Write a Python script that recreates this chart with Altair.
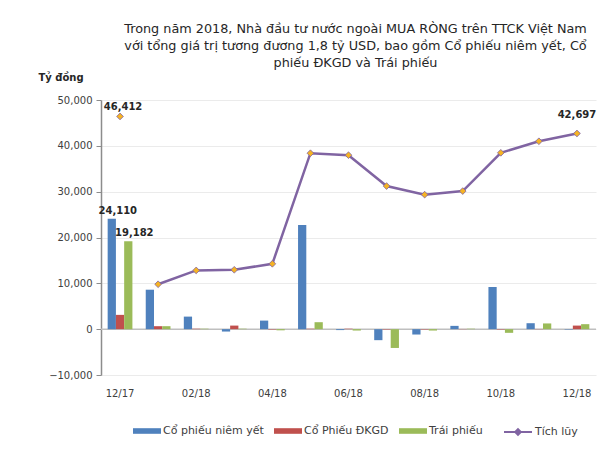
import altair as alt
import pandas as pd

months = ["12/17", "01/18", "02/18", "03/18", "04/18", "05/18", "06/18",
          "07/18", "08/18", "09/18", "10/18", "11/18", "12/18"]
listed = [24110, 8610, 2740, -520, 1870, 22740, -200, -2400, -1170, 720, 9200, 1300, -100]
upcom = [3120, 650, 100, 780, -100, 100, 100, -100, -100, 50, -100, 50, 780]
bonds = [19182, 650, 100, 100, -250, 1520, -300, -4100, -300, 100, -800, 1250, 1090]
cumulative = [46412, 9800, 12820, 12960, 14260, 38390, 37960, 31220, 29350, 30130, 38480, 41000, 42697]

series_names = ["Cổ phiếu niêm yết", "Cổ Phiếu ĐKGD", "Trái phiếu"]
line_name = "Tích lũy"
bar_colors = ["#4f81bd", "#c0504d", "#9bbb59"]
line_color = "#8064a2"
marker_color = "#f5b324"
y_ticks = [-10000, 0, 10000, 20000, 30000, 40000, 50000]

title_lines = [
    "Trong năm 2018, Nhà đầu tư nước ngoài MUA RÒNG trên TTCK Việt Nam",
    "với tổng giá trị tương đương 1,8 tỷ USD, bao gồm Cổ phiếu niêm yết, Cổ",
    "phiếu ĐKGD và Trái phiếu",
]

rows = []
for name, vals in zip(series_names, [listed, upcom, bonds]):
    for m, v in zip(months, vals):
        rows.append({"month": m, "series": name, "value": v})
bars_df = pd.DataFrame(rows)
line_df = pd.DataFrame({"month": months, "value": cumulative, "series": line_name})
zero_df = pd.DataFrame({"value": [0]})

FONT = "DejaVu Sans"

x_enc = alt.X(
    "month:N", sort=months, title=None,
    scale=alt.Scale(paddingInner=0.35, paddingOuter=0.175),
    axis=alt.Axis(values=months[::2], labelAngle=0, ticks=False, domain=False,
                  labelPadding=13, labelFontSize=10, labelColor="#404040",
                  labelFont=FONT, grid=False),
)
y_enc = alt.Y(
    "value:Q", scale=alt.Scale(domain=[-10000, 50000], nice=False),
    axis=alt.Axis(values=y_ticks, format=",d",
                  title="Tỷ đồng", titleAngle=0, titleX=-63, titleY=-23,
                  titleAlign="left", titleBaseline="middle",
                  titleFontSize=10, titleFont=FONT, titleFontWeight="bold",
                  titleColor="#262626",
                  labelFontSize=10, labelFont=FONT, labelColor="#404040",
                  labelPadding=4, tickSize=5, tickColor="#8c8c8c",
                  domainColor="#8c8c8c", domainWidth=1.5,
                  gridColor="#ebebeb"),
)

bars = alt.Chart(bars_df).mark_bar().encode(
    x=x_enc,
    xOffset=alt.XOffset("series:N", sort=series_names),
    y=y_enc,
    color=alt.Color("series:N", sort=series_names,
                    scale=alt.Scale(domain=series_names, range=bar_colors),
                    legend=alt.Legend(orient="none", legendX=32, legendY=317,
                                      direction="horizontal", title=None,
                                      symbolType="M-1,-0.2H1V0.2H-1Z", symbolSize=784,
                                      symbolStrokeWidth=0, labelFont=FONT,
                                      labelFontSize=11, labelColor="#404040",
                                      labelOffset=2, columnPadding=10)),
)

zero = alt.Chart(zero_df).mark_rule(color="#bfbfbf", strokeWidth=1.5).encode(y=y_enc)

line = alt.Chart(line_df).transform_filter(
    alt.datum.month != months[0]
).mark_line(strokeWidth=2.5).encode(
    x=x_enc,
    y=y_enc,
    stroke=alt.Stroke("series:N",
                      scale=alt.Scale(domain=[line_name], range=[line_color]),
                      legend=alt.Legend(orient="none", legendX=402, legendY=317,
                                        direction="horizontal", title=None,
                                        symbolType="M-1,0H1M-0.2,0L0,-0.2L0.2,0L0,0.2Z",
                                        symbolSize=784, symbolStrokeWidth=2,
                                        symbolFillColor=marker_color,
                                        labelFont=FONT, labelFontSize=11,
                                        labelColor="#404040", labelOffset=2)),
)

points = alt.Chart(line_df).mark_point(
    shape="diamond", filled=True, fill=marker_color, stroke=line_color,
    strokeWidth=0.8, size=45, opacity=1
).encode(x=x_enc, y=y_enc)

label_style = dict(fontSize=10, fontWeight="bold", font=FONT, color="#262626")

bar_labels = alt.Chart(bars_df).transform_filter(
    (alt.datum.month == months[0]) & (alt.datum.series != series_names[1])
).mark_text(baseline="bottom", dy=-3, dx=6, **label_style).encode(
    x=x_enc,
    xOffset=alt.XOffset("series:N", sort=series_names),
    y=y_enc,
    text=alt.Text("value:Q", format=","),
)

first_label = alt.Chart(line_df).transform_filter(
    alt.datum.month == months[0]
).mark_text(baseline="bottom", dy=-4, dx=3, **label_style).encode(
    x=x_enc, y=y_enc, text=alt.Text("value:Q", format=","),
)

last_label = alt.Chart(line_df).transform_filter(
    alt.datum.month == months[-1]
).mark_text(baseline="bottom", dy=-13, **label_style).encode(
    x=x_enc, y=y_enc, text=alt.Text("value:Q", format=","),
)

chart = alt.layer(zero, bars, line, points, bar_labels, first_label, last_label).properties(
    width=495, height=275,
    autosize=alt.AutoSizeParams(type="none"),
    padding={"left": 93, "top": 92, "right": 12, "bottom": 75},
    background="white",
    title=alt.TitleParams(text=title_lines, anchor="middle", fontSize=12.8, font=FONT,
                          fontWeight="normal", color="#262626", lineHeight=17,
                          offset=2, dx=7),
).configure_view(stroke=None)

chart.save("out.html", embed_options={"renderer": "svg", "actions": False})
